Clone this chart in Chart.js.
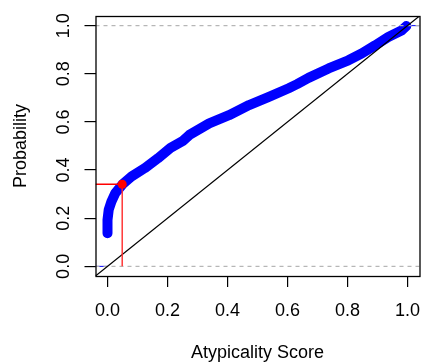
<!DOCTYPE html>
<html>
<head>
<meta charset="utf-8">
<script src="https://cdn.jsdelivr.net/npm/chart.js@4/dist/chart.umd.min.js"></script>
<style>
  body { margin: 0; background: #fff; }
  #wrap { width: 424px; height: 364px; }
</style>
</head>
<body>
<div id="wrap"><canvas id="plot" width="424" height="364"></canvas></div>
<script>
// atypicality score vs probability
const scoreX = [0, 0, 0.004, 0.013, 0.026, 0.05, 0.08, 0.124, 0.168, 0.21, 0.25, 0.273, 0.339, 0.405,
  0.472, 0.538, 0.604, 0.632, 0.67, 0.737, 0.803, 0.847, 0.892, 0.936, 0.98, 0.996];
const probY = [0.138, 0.193, 0.235, 0.269, 0.304, 0.341, 0.373, 0.408, 0.449, 0.492, 0.52, 0.546, 0.594, 0.628,
  0.67, 0.704, 0.74, 0.757, 0.783, 0.822, 0.856, 0.884, 0.918, 0.953, 0.98, 0.998];

const cutoff = { x: 0.049, y: 0.341 };
const refLevels = [0, 1];
const axisRange = [-0.04, 1.04];
const tickVals = [0, 0.2, 0.4, 0.6, 0.8, 1.0];

const FONT = "'Liberation Sans', Arial, sans-serif";

// box around plot region like R's box()
const boxPlugin = {
  id: 'box',
  afterDraw(chart) {
    const { ctx, chartArea: a } = chart;
    ctx.save();
    ctx.strokeStyle = '#000';
    ctx.lineWidth = 1.3;
    ctx.strokeRect(a.left + 0.5, a.top + 0.5, a.right - a.left, a.bottom - a.top);
    ctx.restore();
  }
};

const curve = scoreX.map((x, i) => ({ x: x, y: probY[i] }));
const diag = axisRange.map(v => ({ x: v, y: v }));

const datasets = [
  {
    data: curve, borderColor: '#0000ff', borderWidth: 10,
    borderCapStyle: 'round', borderJoinStyle: 'round', pointRadius: 0, order: 6
  },
  // flat ends of the step function outside [0, 1]
  {
    data: [{ x: axisRange[0], y: refLevels[0] }, { x: 0, y: refLevels[0] }],
    borderColor: '#0000ff', borderWidth: 1, pointRadius: 0, order: 5
  },
  {
    data: [{ x: 1, y: refLevels[1] }, { x: axisRange[1], y: refLevels[1] }],
    borderColor: '#0000ff', borderWidth: 1, pointRadius: 0, order: 5
  },
  ...refLevels.map(lv => ({
    data: axisRange.map(v => ({ x: v, y: lv })), borderColor: '#b4b4b4', borderWidth: 1.2,
    borderDash: [4, 4], pointRadius: 0, order: 4
  })),
  { data: diag, borderColor: '#000', borderWidth: 1.2, pointRadius: 0, order: 3 },
  {
    data: [{ x: axisRange[0], y: cutoff.y }, { x: cutoff.x, y: cutoff.y }],
    borderColor: '#ff0000', borderWidth: 1.4, pointRadius: 0, order: 2
  },
  {
    data: [{ x: cutoff.x, y: refLevels[0] }, { x: cutoff.x, y: cutoff.y }],
    borderColor: '#ff2a2a', borderWidth: 1.4, pointRadius: 0, order: 2
  },
  {
    type: 'scatter', data: [cutoff], backgroundColor: '#ff0000', borderWidth: 0,
    pointRadius: 4.5, order: 1
  }
];

function setTicks(scale) {
  scale.ticks = tickVals.map(v => ({ value: v }));
}

// keep the plot box where R puts it: no extra room for edge labels
function noPad(s) {
  s.paddingLeft = 0; s.paddingRight = 0; s.paddingTop = 0; s.paddingBottom = 0;
}

new Chart(document.getElementById('plot'), {
  type: 'line',
  data: { datasets: datasets },
  options: {
    responsive: false,
    animation: false,
    events: [],
    layout: { padding: { top: 16, right: 3, left: 0, bottom: 0 } },
    plugins: { legend: { display: false }, tooltip: { enabled: false } },
    scales: {
      x: {
        type: 'linear', min: axisRange[0], max: axisRange[1],
        afterBuildTicks: setTicks,
        afterFit: s => { s.height = 88; noPad(s); },
        border: { display: false },
        grid: { drawOnChartArea: false, tickLength: 11, tickColor: '#000', color: '#000', lineWidth: 1.2 },
        ticks: {
          color: '#000', font: { family: FONT, size: 18 }, padding: 13,
          maxRotation: 0, autoSkip: false, callback: v => v.toFixed(1)
        },
        title: {
          display: true, text: 'Atypicality Score', color: '#000',
          font: { family: FONT, size: 18 }, padding: 0
        }
      },
      y: {
        type: 'linear', min: axisRange[0], max: axisRange[1],
        afterBuildTicks: setTicks,
        afterFit: s => { s.width = 95.5; noPad(s); },
        border: { display: false },
        grid: { drawOnChartArea: false, tickLength: 11, tickColor: '#000', color: '#000', lineWidth: 1.2 },
        ticks: {
          color: '#000', font: { family: FONT, size: 18 }, padding: 8,
          minRotation: 90, maxRotation: 90, crossAlign: 'center', autoSkip: false,
          callback: v => v.toFixed(1)
        },
        title: {
          display: true, text: 'Probability', color: '#000',
          font: { family: FONT, size: 18 }, padding: { top: 10 }
        }
      }
    }
  },
  plugins: [boxPlugin]
});
</script>
</body>
</html>
